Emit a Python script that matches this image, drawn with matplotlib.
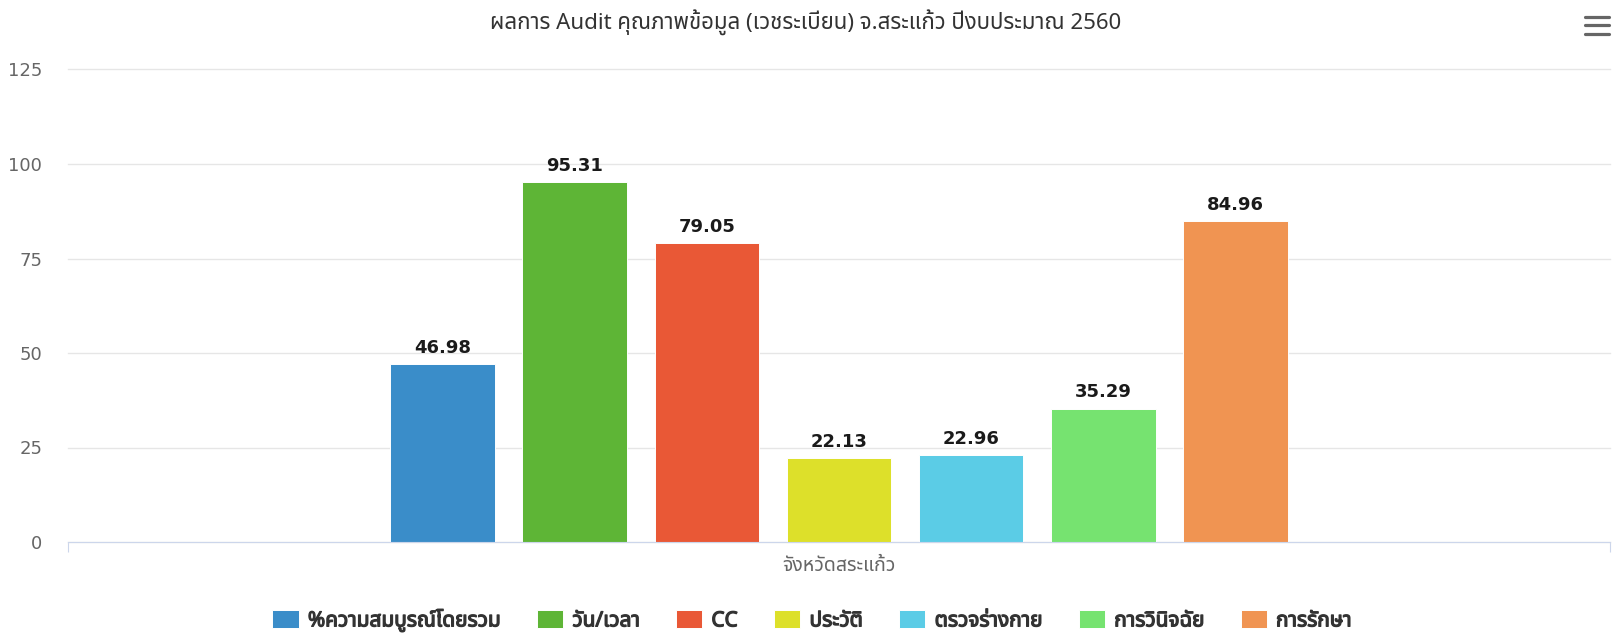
import matplotlib
matplotlib.use("Agg")
import matplotlib.pyplot as plt
from matplotlib import font_manager as fm
from matplotlib.ft2font import FT2Font
from matplotlib.lines import Line2D
import matplotlib.transforms as mtransforms
import matplotlib.patheffects as pe

# ---------------- data ----------------
title = "ผลการ Audit คุณภาพข้อมูล (เวชระเบียน) จ.สระแก้ว ปีงบประมาณ 2560"
category = "จังหวัดสระแก้ว"
series_names = ["%ความสมบูรณ์โดยรวม", "วัน/เวลา", "CC", "ประวัติ",
                "ตรวจร่างกาย", "การวินิจฉัย", "การรักษา"]
series_values = [46.98, 95.31, 79.05, 22.13, 22.96, 35.29, 84.96]
series_colors = ["#3a8dc9", "#5eb536", "#e95836", "#dde02a",
                 "#5bcce6", "#76e370", "#f09452"]
y_ticks = [0, 25, 50, 75, 100, 125]


# ---------------- font with Thai glyphs ----------------
def find_thai_font():
    prefs = ["Noto Sans Thai", "Noto Sans Thai UI", "Noto Sans Thai Looped",
             "Sarabun", "Loma", "Garuda", "Waree", "Tlwg Typo", "Kinnari",
             "Umpush", "Sawasdee", "Norasi", "Laksaman", "FreeSans",
             "Noto Serif Thai"]
    found = []
    for f in fm.fontManager.ttflist:
        try:
            cmap = FT2Font(f.fname).get_charmap()
        except Exception:
            continue
        if ord("ก") in cmap and ord("ั") in cmap:
            found.append(f.name)
    for p in prefs:
        if p in found:
            return p
    return found[0] if found else None


thai = find_thai_font()
families = ([thai] if thai else []) + ["DejaVu Sans"]
plt.rcParams["font.family"] = families

W, H, DPI = 1612, 633, 100
fig = plt.figure(figsize=(W / DPI, H / DPI), dpi=DPI)

ax_left, ax_right, ax_top, ax_bottom = 68, 1610, 69.5, 542
ax = fig.add_axes([ax_left / W, 1 - ax_bottom / H,
                   (ax_right - ax_left) / W, (ax_bottom - ax_top) / H])

n = len(series_values)
group = 0.6
slot = group / n
width = slot * 0.79
for i, (name, val, col) in enumerate(zip(series_names, series_values, series_colors)):
    xc = -group / 2 + slot * (i + 0.5)
    ax.bar(xc, val, width=width, color=col, edgecolor="white",
           linewidth=0.7, label=name, zorder=3)
    ax.annotate(f"{val:.2f}", (xc, val), xytext=(0, 8),
                textcoords="offset points", ha="center", va="baseline",
                fontsize=13, fontweight="bold", color="#1a1a1a",
                family=["DejaVu Sans"], zorder=4)

ax.set_xlim(-0.5, 0.5)
ax.set_ylim(0, 125)
ax.set_yticks(y_ticks)
ax.tick_params(axis="y", length=0, pad=18.5, labelsize=13, labelcolor="#666666")
for t in ax.get_yticklabels():
    t.set_family(["DejaVu Sans"])
ax.yaxis.grid(True, color="#e6e6e6", linewidth=1.0, zorder=0)
for gl in ax.get_ygridlines():
    gl.set_clip_on(False)
ax.set_axisbelow(True)

ax.set_xticks([-0.5, 0.5])
ax.set_xticklabels(["", ""])
ax.tick_params(axis="x", length=7.2, width=0.8, color="#ccd6eb", direction="out")

for s in ["top", "right", "left"]:
    ax.spines[s].set_visible(False)
ax.spines["bottom"].set_color("#ccd6eb")
ax.spines["bottom"].set_linewidth(0.8)
ax.spines["bottom"].set_zorder(5)

trans = mtransforms.blended_transform_factory(ax.transData, ax.transAxes)
ax.text(0, -24 / (ax_bottom - ax_top), category, transform=trans,
        ha="center", va="center", fontsize=14, color="#666666")

fig.text(0.5, 1 - 22.5 / H, title, ha="center", va="center",
         fontsize=16, color="#333333")

# hamburger menu icon
for yy in [16.5, 25.2, 34]:
    fig.add_artist(Line2D([1585 / W, 1609 / W], [1 - yy / H, 1 - yy / H],
                          transform=fig.transFigure, color="#666666",
                          linewidth=2.3, solid_capstyle="round"))

leg = ax.legend(loc="center", bbox_to_anchor=(812 / W, 1 - 620 / H),
                bbox_transform=fig.transFigure, ncol=n, frameon=False,
                prop={"weight": "bold", "size": 15, "family": families},
                handlelength=1.25, handleheight=0.95, handletextpad=0.45,
                columnspacing=1.75, borderpad=0, borderaxespad=0)
for t in leg.get_texts():
    t.set_color("#333333")
    t.set_path_effects([pe.withStroke(linewidth=0.9, foreground="#333333")])

fig.savefig("out.png", dpi=DPI)
